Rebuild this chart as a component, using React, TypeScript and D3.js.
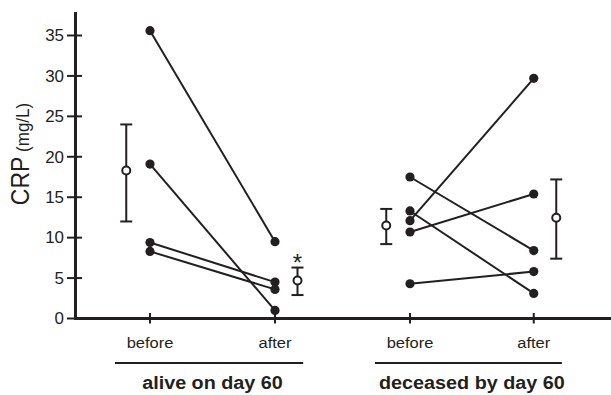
import * as d3 from 'd3';

const groups = ['alive on day 60', 'deceased by day 60'];
const timeLabels = ['before', 'after'];
// x position of the before/after columns of each group
const groupPos = [
  [1, 2],
  [3.08, 4.07],
];

const aliveBefore = [35.6, 19.1, 9.4, 8.3];
const aliveAfter = [9.5, 1.0, 4.5, 3.6];
const deceasedBefore = [17.5, 13.3, 12.1, 10.7, 4.3];
const deceasedAfter = [8.4, 3.1, 29.7, 15.4, 5.8];

// mean with error bar: [mean, low, high]
const aliveMeans = [
  [18.3, 12.0, 24.0],
  [4.7, 2.9, 6.3],
];
const deceasedMeans = [
  [11.5, 9.2, 13.55],
  [12.45, 7.4, 17.2],
];
const significant = [false, true, false, false];

const yTicks = [0, 5, 10, 15, 20, 25, 30, 35];

const INK = '#231f20';
const FONT = '"Liberation Sans", Arial, Helvetica, sans-serif';

export default function App() {
  const width = 611;
  const height = 395;
  const x = d3.scaleLinear().domain([1, 2]).range([150, 275]);
  const y = d3.scaleLinear().domain([0, 35]).range([318.5, 35.5]);
  const x0 = x.invert(75.5);
  const x1 = x.invert(width);
  const yTop = y.invert(12);

  const series = [
    { before: aliveBefore, after: aliveAfter, means: aliveMeans },
    { before: deceasedBefore, after: deceasedAfter, means: deceasedMeans },
  ];
  const meanOffset = [-0.19, 0.18];

  return (
    <svg
      width={width}
      height={height}
      style={{ position: 'absolute', left: 0, top: 0, background: '#fff' }}
      fontFamily={FONT}
    >
      {/* y axis */}
      <line x1={x(x0)} x2={x(x0)} y1={y(yTop)} y2={y(0)} stroke={INK} strokeWidth={3} />
      {yTicks.map((t) => (
        <g key={t}>
          <line x1={x(x0) - 8.5} x2={x(x0) + 6.5} y1={y(t)} y2={y(t)} stroke={INK} strokeWidth={2} />
          <text
            transform={`translate(64,${y(t)}) scale(1.06,1)`}
            dy="0.36em"
            textAnchor="end"
            fontSize={16}
            fill={INK}
          >
            {t}
          </text>
        </g>
      ))}
      <text transform="translate(28.5,154) scale(1.1,1) rotate(-90)" textAnchor="middle" fill={INK}>
        <tspan fontSize={23}>CRP</tspan>
        <tspan fontSize={17}> (mg/L)</tspan>
      </text>

      {/* x axis */}
      <line x1={x(x0) - 1.5} x2={x(x1)} y1={y(0)} y2={y(0)} stroke={INK} strokeWidth={3} />
      {groupPos.map((pos, gi) => (
        <g key={gi}>
          {pos.map((p, ti) => (
            <g key={ti}>
              <line x1={x(p)} x2={x(p)} y1={y(0) - 5.5} y2={y(0) + 5} stroke={INK} strokeWidth={2} />
              <text
                transform={`translate(${x(p)},347.7) scale(1.1,1)`}
                textAnchor="middle"
                fontSize={15}
                fill={INK}
              >
                {timeLabels[ti]}
              </text>
            </g>
          ))}
          <line
            x1={x(pos[0] - 0.28)}
            x2={x(pos[1] + 0.225)}
            y1={363}
            y2={363}
            stroke={INK}
            strokeWidth={2}
          />
          <text
            transform={`translate(${x((pos[0] + pos[1]) / 2)},389) scale(1.07,1)`}
            textAnchor="middle"
            fontSize={18.5}
            fontWeight="bold"
            fill={INK}
          >
            {groups[gi]}
          </text>
        </g>
      ))}

      {/* paired lines and points */}
      {series.map((s, gi) => (
        <g key={gi}>
          {s.before.map((b, i) => (
            <line
              key={i}
              x1={x(groupPos[gi][0])}
              y1={y(b)}
              x2={x(groupPos[gi][1])}
              y2={y(s.after[i])}
              stroke={INK}
              strokeWidth={2}
            />
          ))}
          {[s.before, s.after].map((vals, ti) =>
            vals.map((v, i) => (
              <circle key={`${ti}-${i}`} cx={x(groupPos[gi][ti])} cy={y(v)} r={4.6} fill={INK} />
            )),
          )}
          {s.means.map(([m, lo, hi], ti) => {
            const cx = x(groupPos[gi][ti] + meanOffset[ti]);
            return (
              <g key={`m${ti}`}>
                <line x1={cx} x2={cx} y1={y(hi)} y2={y(lo)} stroke={INK} strokeWidth={2} />
                <line x1={cx - 6} x2={cx + 6} y1={y(hi)} y2={y(hi)} stroke={INK} strokeWidth={2} />
                <line x1={cx - 6} x2={cx + 6} y1={y(lo)} y2={y(lo)} stroke={INK} strokeWidth={2} />
                <circle cx={cx} cy={y(m)} r={4} fill="#fff" stroke={INK} strokeWidth={2} />
                {significant[gi * 2 + ti] && (
                  <text x={cx} y={y(hi) + 3} textAnchor="middle" fontSize={24} fill={INK}>
                    *
                  </text>
                )}
              </g>
            );
          })}
        </g>
      ))}
    </svg>
  );
}
